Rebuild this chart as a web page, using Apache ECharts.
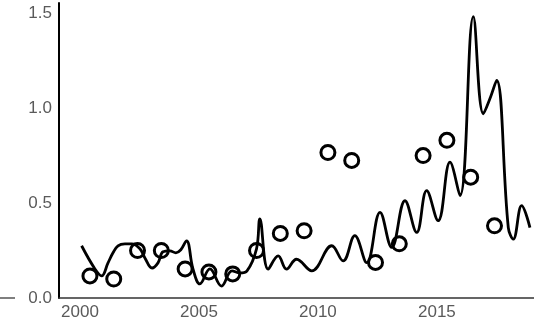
<!DOCTYPE html>
<html>
<head>
<meta charset="utf-8">
<script src="https://cdn.jsdelivr.net/npm/echarts@6/dist/echarts.min.js"></script>
<style>html,body{margin:0;padding:0;background:#fff}#c{width:534px;height:321px}</style>
</head>
<body>
<div id="c"></div>
<script>
// line series (time in fractional years, value)
const lineT = [2000.07,2000.63,2000.91,2001.18,2001.39,2001.60,2001.89,2002.18,2002.52,2002.73,2003.03,2003.28,2003.49,2003.78,2004.03,2004.24,2004.48,2004.75,2005.04,2005.46,2005.95,2006.39,2006.72,2007.02,2007.42,2007.56,2007.91,2008.33,2008.68,2009.10,2009.74,2010.58,2011.06,2011.55,2012.05,2012.61,2013.10,2013.66,2014.15,2014.57,2015.05,2015.55,2015.97,2016.53,2016.95,2017.23,2017.51,2018.00,2018.21,2018.56,2018.91];
const lineV = [0.275,0.153,0.116,0.185,0.238,0.275,0.285,0.285,0.259,0.211,0.158,0.185,0.243,0.248,0.238,0.254,0.301,0.153,0.074,0.153,0.063,0.143,0.132,0.143,0.259,0.416,0.152,0.222,0.152,0.204,0.143,0.275,0.195,0.328,0.186,0.451,0.266,0.512,0.345,0.565,0.407,0.715,0.539,1.481,0.970,1.050,1.146,0.371,0.310,0.486,0.371];
// annual points
const pointT = [2000.42,2001.42,2002.42,2003.42,2004.42,2005.42,2006.42,2007.42,2008.42,2009.42,2010.42,2011.42,2012.42,2013.42,2014.42,2015.42,2016.42,2017.42];
const pointV = [0.116,0.100,0.250,0.250,0.153,0.137,0.127,0.250,0.340,0.354,0.766,0.724,0.187,0.285,0.750,0.830,0.636,0.380];
const xTicks = [2000,2005,2010,2015];
const yTicks = [0,0.5,1.0,1.5];

const chart = echarts.init(document.getElementById('c'), null, {renderer:'canvas'});
chart.setOption({
  animation:false,
  backgroundColor:'#fff',
  grid:{left:59,right:0,top:3,bottom:23},
  xAxis:{
    type:'value', min:1999.12, max:2019.08,
    splitLine:{show:false},
    axisLine:{show:true,onZero:false,lineStyle:{color:'#333',width:1.5}},
    axisTick:{show:false},
    axisLabel:{customValues:xTicks,color:'#5a5a5a',fontSize:17,fontFamily:'Liberation Sans, Arial',margin:6,formatter:v=>String(Math.round(v))}
  },
  yAxis:{
    type:'value', min:0, max:1.553, interval:0.5,
    splitLine:{show:false},
    axisLine:{show:true,lineStyle:{color:'#000',width:2}},
    axisTick:{show:false},
    axisLabel:{color:'#5a5a5a',fontSize:17,fontFamily:'Liberation Sans, Arial',margin:7,
      formatter:v=>yTicks.some(t=>Math.abs(t-v)<1e-6)?v.toFixed(1):''}
  },
  graphic:[{type:'line',shape:{x1:0,y1:298,x2:15,y2:298},style:{stroke:'#555',lineWidth:1.5}}],
  series:[
    {type:'line',data:lineT.map((t,i)=>[t,lineV[i]]),smooth:0.4,showSymbol:false,
     lineStyle:{color:'#000',width:2.8}},
    {type:'scatter',data:pointT.map((t,i)=>[t,pointV[i]]),symbol:'circle',symbolSize:14,
     itemStyle:{color:'rgba(255,255,255,0)',borderColor:'#000',borderWidth:3,opacity:1}}
  ]
});
</script>
</body>
</html>
